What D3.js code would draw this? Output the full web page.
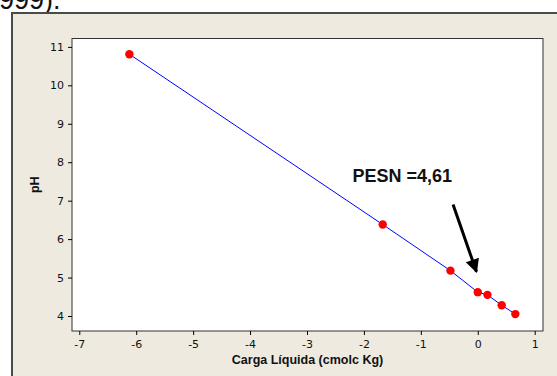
<!DOCTYPE html>
<html>
<head>
<meta charset="utf-8">
<script src="https://cdn.jsdelivr.net/npm/d3@7"></script>
<style>
  body { margin: 0; background: #fff; }
  svg { display: block; }
</style>
</head>
<body>
<div id="chart"></div>
<script>
// values
const cargaLiquida = [-6.12, -1.67, -0.48, 0.0, 0.17, 0.42, 0.66];
const phValues = [10.81, 6.38, 5.18, 4.62, 4.55, 4.28, 4.05];
const xTicks = [-7, -6, -5, -4, -3, -2, -1, 0, 1];
const yTicks = [4, 5, 6, 7, 8, 9, 10, 11];
const annotation = {label: "PESN =4,61", x: -2.2, y: 7.49};
const arrowFrom = {x: -0.434, y: 6.90};
const arrowTo = {x: -0.023, y: 5.15};

const dims = {
    width: 557,
    height: 376,
    plot: {left: 72, right: 543, top: 38.5, bottom: 331}
};

const svg = d3.select("#chart").append("svg")
    .attr("width", dims.width)
    .attr("height", dims.height);

// caption remnant above the figure (cut off by the page top)
svg.append("text")
    .attr("x", -1)
    .attr("y", 8.5)
    .style("font", "27px 'Liberation Sans', Arial, sans-serif")
    .attr("fill", "#111")
    .text("999).");

// beige frame
svg.append("rect")
    .attr("x", 12).attr("y", 13)
    .attr("width", 560).attr("height", 380)
    .attr("fill", "#eeeae0")
    .attr("stroke", "#4a4a4a")
    .attr("stroke-width", 2);

const p = dims.plot;
const x = d3.scaleLinear().domain([-7.128, 1.146]).range([p.left, p.right]);
const y = d3.scaleLinear().domain([3.61, 11.218]).range([p.bottom, p.top]);

svg.append("rect")
    .attr("x", p.left).attr("y", p.top)
    .attr("width", p.right - p.left).attr("height", p.bottom - p.top)
    .attr("fill", "#fff")
    .attr("stroke", "#333")
    .attr("stroke-width", 1);

const tickFont = "11px Tahoma, 'DejaVu Sans', sans-serif";

svg.append("g")
    .attr("transform", `translate(0,${p.bottom})`)
    .call(d3.axisBottom(x).tickValues(xTicks).tickSize(4).tickPadding(5).tickFormat(d => String(d)))
    .call(g => g.select(".domain").remove())
    .call(g => g.selectAll(".tick line").attr("stroke", "#000"))
    .call(g => g.selectAll(".tick text").style("font", tickFont).attr("fill", "#111"));

svg.append("g")
    .attr("transform", `translate(${p.left},0)`)
    .call(d3.axisLeft(y).tickValues(yTicks).tickSize(4).tickPadding(4).tickFormat(d => String(d)))
    .call(g => g.select(".domain").remove())
    .call(g => g.selectAll(".tick line").attr("stroke", "#000"))
    .call(g => g.selectAll(".tick text").style("font", tickFont).attr("fill", "#111"));

svg.append("text")
    .attr("x", (p.left + p.right) / 2)
    .attr("y", 364)
    .attr("text-anchor", "middle")
    .style("font", "bold 12.5px 'Liberation Sans', Arial, sans-serif")
    .attr("fill", "#111")
    .text("Carga Líquida (cmolc Kg)");

svg.append("text")
    .attr("transform", `translate(39,${(p.top + p.bottom) / 2}) rotate(-90)`)
    .attr("text-anchor", "middle")
    .style("font", "bold 12.5px 'Liberation Sans', Arial, sans-serif")
    .attr("fill", "#111")
    .text("pH");

const points = cargaLiquida.map((c, i) => ({c: c, ph: phValues[i]}));

const line = d3.line()
    .x(d => x(d.c))
    .y(d => y(d.ph));

svg.append("path")
    .datum(points)
    .attr("d", line)
    .attr("fill", "none")
    .attr("stroke", "#0000ff")
    .attr("stroke-width", 1);

svg.append("g")
    .selectAll("circle")
    .data(points)
    .join("circle")
    .attr("cx", d => x(d.c))
    .attr("cy", d => y(d.ph))
    .attr("r", 4.2)
    .attr("fill", "#ff0000");

// annotation arrow
svg.append("defs").append("marker")
    .attr("id", "head")
    .attr("viewBox", "0 0 10 10")
    .attr("refX", 9).attr("refY", 5)
    .attr("markerWidth", 5.5).attr("markerHeight", 4.6)
    .attr("markerUnits", "strokeWidth")
    .attr("orient", "auto")
    .append("path")
    .attr("d", "M0,0 L10,5 L0,10 Z")
    .attr("fill", "#000");

svg.append("line")
    .attr("x1", x(arrowFrom.x)).attr("y1", y(arrowFrom.y))
    .attr("x2", x(arrowTo.x)).attr("y2", y(arrowTo.y))
    .attr("stroke", "#000")
    .attr("stroke-width", 3)
    .attr("marker-end", "url(#head)");

svg.append("text")
    .attr("x", x(annotation.x))
    .attr("y", y(annotation.y))
    .style("font", "bold 18px 'Liberation Sans', Arial, sans-serif")
    .attr("fill", "#111")
    .text(annotation.label);
</script>
</body>
</html>
